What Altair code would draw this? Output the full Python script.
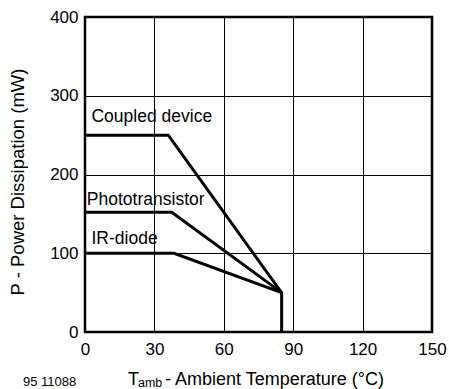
import altair as alt
import pandas as pd

FONT = "Liberation Sans"

series = ["Coupled device"] * 4 + ["Phototransistor"] * 3 + ["IR-diode"] * 3
temps = [0, 36, 85, 85, 0, 37.5, 85, 0, 38.5, 85]
power = [250, 250, 50, 0, 152, 152, 50, 100, 100, 50]
order = [0, 1, 2, 3, 0, 1, 2, 0, 1, 2]

label_text = ["Coupled device", "Phototransistor", "IR-diode"]
label_x = [2.8, 0.8, 2.8]
label_y = [273, 168, 118]

x_ticks = [0, 30, 60, 90, 120, 150]
y_ticks = [0, 100, 200, 300, 400]

df = pd.DataFrame({"series": series, "T": temps, "P": power, "o": order})
lab = pd.DataFrame({"text": label_text, "T": label_x, "P": label_y})

xs = alt.Scale(domain=[0, 150], nice=False)
ys = alt.Scale(domain=[0, 400], nice=False)

xaxis = alt.Axis(values=x_ticks, title=None, grid=True, gridColor="black", gridWidth=1,
                 gridOpacity=1, ticks=False, domain=False, labelFont=FONT, labelFontSize=17,
                 labelColor="black", labelPadding=9, labelFlush=False)
yaxis = alt.Axis(values=y_ticks, title=None, grid=True, gridColor="black", gridWidth=1,
                 gridOpacity=1, ticks=False, domain=False, labelFont=FONT, labelFontSize=17,
                 labelColor="black", labelPadding=7, labelFlush=False)

lines = alt.Chart(df).mark_line(color="black", strokeWidth=3, strokeJoin="miter").encode(
    x=alt.X("T:Q", scale=xs, axis=xaxis),
    y=alt.Y("P:Q", scale=ys, axis=yaxis),
    detail="series:N",
    order="o:Q",
)

labels = alt.Chart(lab).mark_text(font=FONT, fontSize=17.5, align="left", baseline="middle",
                                  color="black").encode(
    x=alt.X("T:Q", scale=xs), y=alt.Y("P:Q", scale=ys), text="text:N")

ytitle = alt.Chart(pd.DataFrame({"t": ["P - Power Dissipation (mW)"]})).mark_text(
    font=FONT, fontSize=18.5, angle=270, align="center", baseline="middle", color="black"
).encode(x=alt.value(-67), y=alt.value(165), text="t:N")

xt1 = alt.Chart(pd.DataFrame({"t": ["T"]})).mark_text(
    font=FONT, fontSize=18, align="left", baseline="alphabetic", color="black"
).encode(x=alt.value(43), y=alt.value(368), text="t:N")
xt2 = alt.Chart(pd.DataFrame({"t": ["amb"]})).mark_text(
    font=FONT, fontSize=12.5, align="left", baseline="alphabetic", color="black"
).encode(x=alt.value(53), y=alt.value(370), text="t:N")
xt3 = alt.Chart(pd.DataFrame({"t": ["- Ambient Temperature (°C)"]})).mark_text(
    font=FONT, fontSize=18, align="left", baseline="alphabetic", color="black"
).encode(x=alt.value(80), y=alt.value(368), text="t:N")
code = alt.Chart(pd.DataFrame({"t": ["95 11088"]})).mark_text(
    font=FONT, fontSize=13, align="left", baseline="alphabetic", color="black"
).encode(x=alt.value(-62), y=alt.value(369), text="t:N")

chart = alt.layer(lines, labels, ytitle, xt1, xt2, xt3, code).properties(
    width=347, height=315,
    autosize=alt.AutoSizeParams(type="none"),
    padding={"left": 85, "top": 17, "right": 17, "bottom": 57},
    background="white",
).configure_view(stroke="black", strokeWidth=2.5)

chart.save("out.html", embed_options={"renderer": "svg", "actions": False})
